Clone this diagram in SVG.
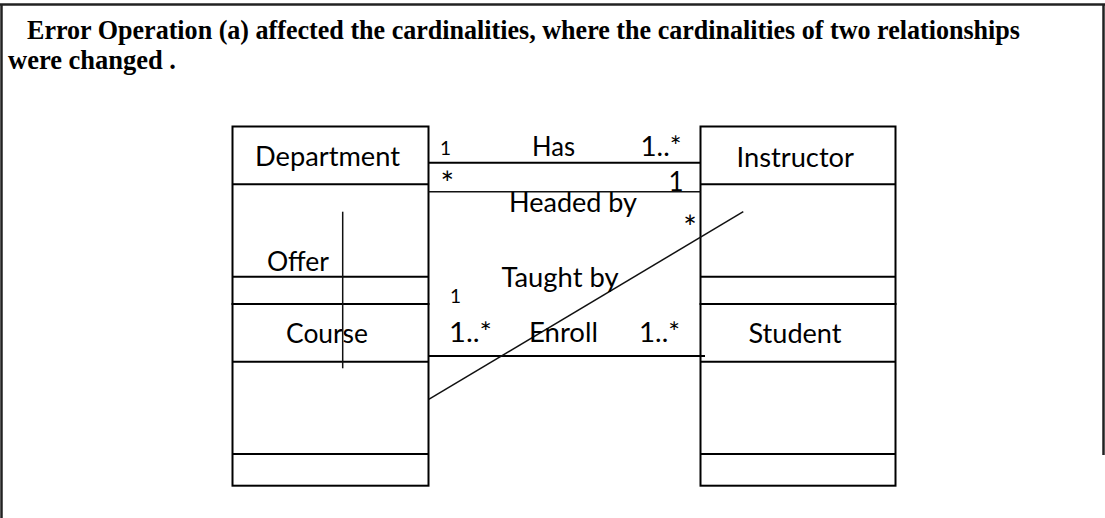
<svg xmlns="http://www.w3.org/2000/svg" width="1105" height="518" viewBox="0 0 1105 518">
<style>
.frame{stroke:#222;stroke-width:2.5;fill:none}
.box{fill:#fff;stroke:#000;stroke-width:2}
.row{stroke:#000;stroke-width:2}
.ln{stroke:#000;stroke-width:2;fill:none}
.thin{stroke:#111;stroke-width:1.5;fill:none}
.title{font-family:"Liberation Serif","Times New Roman",serif;font-weight:bold;font-size:27px;fill:#000}
.lbl{font-family:Lato,"Open Sans","Liberation Sans",sans-serif;font-size:26px;fill:#000}
.sm{font-family:Lato,"Open Sans","Liberation Sans",sans-serif;font-size:19px;fill:#000}
.ast{font-family:Lato,"Open Sans","Liberation Sans",sans-serif;font-size:32px;fill:#000}
</style>
<rect width="1105" height="518" fill="#fff"/>
<g id="frame">
<line class="frame" x1="0" y1="4.5" x2="1105" y2="4.5"/>
<line class="frame" x1="1.5" y1="4.5" x2="1.5" y2="518"/>
<line class="frame" x1="1103.5" y1="4.5" x2="1103.5" y2="455"/>
</g>
<g id="title">
<text class="title" x="27" y="38.5" textLength="993" lengthAdjust="spacingAndGlyphs">Error Operation (a)  affected the cardinalities, where the cardinalities of two relationships</text>
<text class="title" x="8" y="69" textLength="168" lengthAdjust="spacingAndGlyphs">were changed .</text>
</g>
<g id="department">
<rect class="box" x="232.5" y="126.5" width="196" height="177.5"/>
<line class="row" x1="232.5" y1="184.3" x2="428.5" y2="184.3"/>
<line class="row" x1="232.5" y1="276.7" x2="428.5" y2="276.7"/>
<text class="lbl" x="255" y="166" textLength="145" lengthAdjust="spacingAndGlyphs">Department</text>
</g>
<g id="course">
<rect class="box" x="232.5" y="304" width="196" height="181.7"/>
<line class="row" x1="232.5" y1="361.7" x2="428.5" y2="361.7"/>
<line class="row" x1="232.5" y1="454" x2="428.5" y2="454"/>
<text class="lbl" x="286" y="342.7" textLength="82" lengthAdjust="spacingAndGlyphs">Course</text>
</g>
<g id="instructor">
<rect class="box" x="700.5" y="126.5" width="195" height="177.5"/>
<line class="row" x1="700.5" y1="184.3" x2="895.5" y2="184.3"/>
<line class="row" x1="700.5" y1="276.7" x2="895.5" y2="276.7"/>
<text class="lbl" x="736.5" y="166.7" textLength="117.5" lengthAdjust="spacingAndGlyphs">Instructor</text>
</g>
<g id="student">
<rect class="box" x="700.5" y="304" width="195" height="181.7"/>
<line class="row" x1="700.5" y1="361.7" x2="895.5" y2="361.7"/>
<line class="row" x1="700.5" y1="454" x2="895.5" y2="454"/>
<text class="lbl" x="748.5" y="343.3" textLength="93" lengthAdjust="spacingAndGlyphs">Student</text>
</g>
<g id="connectors">
<line class="ln" x1="428.5" y1="162.7" x2="700.5" y2="162.7"/>
<line class="thin" x1="428.5" y1="191.7" x2="700.5" y2="191.7" stroke="#333"/>
<line class="ln" x1="428.5" y1="356" x2="705" y2="356"/>
<line class="thin" x1="342.7" y1="211.7" x2="342.7" y2="368.3"/>
<line class="thin" x1="428.7" y1="399.3" x2="743.3" y2="211.7"/>
</g>
<g id="labels">
<text class="sm" x="445.5" y="155" text-anchor="middle">1</text>
<text class="lbl" x="532" y="156" textLength="43" lengthAdjust="spacingAndGlyphs">Has</text>
<text class="lbl" x="640.5" y="156" textLength="41" lengthAdjust="spacingAndGlyphs">1..*</text>
<text class="ast" x="447.2" y="195" text-anchor="middle">*</text>
<text class="lbl" x="676" y="190.7" text-anchor="middle" font-size="24">1</text>
<text class="lbl" x="509" y="212.3" textLength="128" lengthAdjust="spacingAndGlyphs">Headed by</text>
<text class="ast" x="690" y="239" text-anchor="middle">*</text>
<text class="lbl" x="267" y="270.7" textLength="62" lengthAdjust="spacingAndGlyphs">Offer</text>
<text class="lbl" x="501.5" y="286.7" textLength="117" lengthAdjust="spacingAndGlyphs">Taught by</text>
<text class="sm" x="455.5" y="303.3" text-anchor="middle">1</text>
<text class="lbl" x="449" y="341.7" textLength="43" lengthAdjust="spacingAndGlyphs">1..*</text>
<text class="lbl" x="529" y="341.7" textLength="69" lengthAdjust="spacingAndGlyphs">Enroll</text>
<text class="lbl" x="639" y="341.7" textLength="41" lengthAdjust="spacingAndGlyphs">1..*</text>
</g>
</svg>
